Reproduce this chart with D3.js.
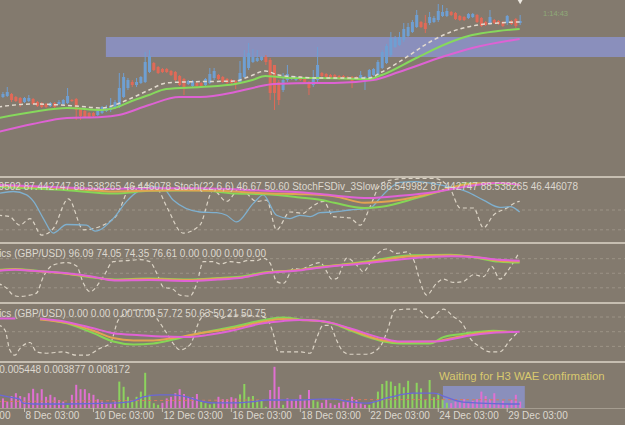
<!DOCTYPE html>
<html>
<head>
<meta charset="utf-8">
<script src="https://cdn.jsdelivr.net/npm/d3@7"></script>
<style>
  body { margin: 0; background: #837a6e; }
  svg { display: block; font-family: 'Liberation Sans', Arial, sans-serif; }
</style>
</head>
<body>
<svg id="chart"></svg>
<script>
// H3 candles, one per bar: [open, high, low, close] in price points
const candles = [
  [79,84,78,82],[80,89,79,84],[82,83,74,76],[79,80,74,75],[78,79,69,73],
  [74,79,73,78],[75,81,74,78],[77,78,71,72],[74,75,69,70],[73,74,68,69],
  [72,73,68,69],[70,74,69,73],[73,74,68,69],[72,76,71,74],[72,77,71,76],
  [73,88,72,80],[76,77,74,75],[77,78,56,66],[67,68,56,60],[65,66,58,59],
  [63,64,58,59],[63,64,59,60],[61,66,60,65],[63,70,62,69],[65,71,64,68],
  [66,78,64,70],[68,76,67,74],[69,103,68,88],[79,103,78,99],[88,98,86,96],
  [94,96,89,91],[91,98,89,94],[93,100,92,99],[94,124,93,114],[104,126,103,120],
  [113,114,105,106],[109,110,102,103],[107,108,103,104],[107,108,103,104],[105,106,100,101],
  [104,105,95,96],[100,101,90,91],[97,98,81,89],[92,96,91,95],[90,96,89,95],
  [93,94,89,90],[93,94,88,89],[91,98,90,97],[93,108,92,102],[98,108,96,105],
  [101,102,96,97],[99,100,93,94],[97,98,92,93],[96,97,92,93],[95,96,87,92],
  [94,115,93,103],[99,126,98,119],[108,133,106,123],[114,127,113,119],[115,126,114,118],
  [116,120,115,119],[119,121,111,114],[116,118,76,83],[111,111,66,83],[94,96,71,76],
  [86,103,84,96],[96,111,94,102],[97,100,96,99],[96,100,95,99],[99,100,95,96],
  [98,99,93,94],[94,95,81,88],[91,106,89,98],[96,129,94,111],[103,104,99,100],
  [102,103,98,99],[101,102,97,98],[101,102,97,98],[100,101,96,97],[100,101,97,98],
  [99,100,96,97],[99,100,88,95],[99,100,96,97],[97,105,96,101],[96,100,86,99],
  [99,107,98,106],[101,108,100,107],[101,116,100,114],[108,126,107,124],[113,132,112,130],
  [121,144,119,138],[129,140,128,138],[131,144,130,139],[136,153,134,147],[140,153,139,149],
  [144,156,143,154],[149,166,148,161],[154,155,148,149],[153,161,143,147],[153,164,151,159],
  [154,160,153,158],[156,172,154,165],[160,171,159,164],[160,168,159,165],[164,165,160,161],
  [163,164,156,157],[160,161,155,156],[159,160,155,156],[158,163,157,162],[159,163,158,162],
  [161,162,153,154],[158,159,149,150],[154,155,150,151],[153,166,151,159],[156,157,152,153],
  [155,156,151,152],[154,155,149,150],[153,161,151,160],[155,156,151,152],[157,158,148,150],
  [153,161,151,155]
];

// moving averages: [bar, price]
const maWhite = [[-1,69],[7,72],[17,70],[23,68],[26,71],[30,78],[34,86],[38,93],[42,94],[54,95],[57,99],[61,105],[64,101],[69,99],[73,98],[85,98],[88,104],[92,114],[100,136],[104,144],[109,150],[115,153],[120,154]];
const maGreen = [[-1,58],[7,64],[15,68],[23,66],[26,68],[30,75],[34,81],[38,87],[46,89],[54,92],[58,96],[61,100],[64,99],[69,98],[73,98],[85,97],[88,101],[96,118],[104,134],[109,141],[115,145],[120,147]];
const maMagenta = [[-1,44],[7,52],[15,58],[23,59],[27,61],[34,71],[41,79],[46,79],[54,84],[59,89],[63,92],[73,93],[77,93],[86,96],[92,104],[102,119],[109,128],[120,137]];

// supply zone and current-bar marker
const zoneMain = {fromBar: 24, hi: 139, lo: 119};
const arrowMark = {bar: 120, level: 175.5};
const timerText = '1:14:43';

// StochFSDiv window
const s1Pink = [[-1,88],[12,85],[23,82],[35,83],[46,83],[61,79],[69,77],[77,72],[85,68],[93,72],[100,77],[108,86],[115,91],[120,88]];
const s1Orange = [[-1,87],[15,83],[26,78],[40,80],[50,79],[62,75],[69,74],[77,71],[84,61],[92,65],[100,76],[108,89],[115,91],[120,88]];
const s1Green = [[-1,85],[15,80],[26,75],[34,79],[46,80],[54,75],[61,74],[69,69],[74,65],[77,61],[84,53],[88,55],[96,68],[104,83],[108,90],[112,90],[117,89],[120,88]];
const s1Blue = [[-1,75],[2.5,78],[5.6,73],[7.2,63],[9.5,37],[11.8,15],[14.9,28],[19.5,27],[21.5,18],[25.7,37],[28.8,63],[31.9,80],[35,85],[37.3,83],[39.6,65],[45.8,47],[49.7,46],[52,42],[54.3,32],[58.2,60],[60.5,73],[63.6,42],[66.7,37],[69,42],[71.4,40],[73.7,46],[76.8,47],[80.6,50],[85.3,53],[87.6,68],[89.9,83],[92.2,92],[96.1,93],[100,90],[103.8,85],[107.7,78],[111.6,65],[115.4,54],[117.8,55],[120,47]];
const s1Dash = [[-1,42],[1.7,40],[4,27],[6.4,37],[9.1,12],[11.8,22],[15.3,67],[18.8,20],[21.1,22],[24.2,30],[26.5,42],[29.6,83],[32.7,88],[35.8,83],[38.1,55],[41.9,15],[45.8,27],[48.9,80],[52,63],[55.1,83],[59,63],[61.3,65],[63.6,20],[66.7,47],[69.8,45],[71.4,53],[74.5,63],[76.8,40],[80.6,38],[83,27],[85.3,55],[87.6,88],[89.9,95],[94.6,98],[100,98],[103.8,83],[106.2,53],[109.3,53],[111.6,23],[113.9,42],[117,53],[119.3,62],[120,63]];
const s1Levels = [50, 20];
const s1Legend = 'StochFSDiv_3Slow 86.549502 87.442747 88.538265 46.446078 Stoch(22,6,6) 46.67 50.60 StochFSDiv_3Slow 86.549982 87.442747 88.538265 46.446078';

// Stochastics window 2
const s2Pink = [[-1,55],[3,57],[7,55],[15,50],[21,43],[26,35],[34,36],[43,34],[50,37],[55,40],[61,50],[68,55],[74,62],[77,65],[85,71],[95,81],[104,85],[110,83],[115,78],[120,76]];
const s2Green = [[-1,57],[3,59],[7,56],[15,49],[21,41],[26,37],[34,39],[43,37],[50,40],[55,43],[61,52],[68,56],[74,64],[77,66],[85,75],[95,87],[104,88],[110,82],[115,74],[120,72]];
const s2Orange = [[-1,56],[3,58],[7,55],[15,49],[21,42],[26,36],[34,38],[43,36],[50,39],[55,41],[61,51],[68,56],[74,63],[77,66],[85,73],[95,85],[104,87],[110,83],[115,76],[120,74]];
const s2Dash = [[-1,29],[1,19],[2.5,5],[4,2],[6.4,5],[7.9,9],[9.5,43],[11.8,67],[14.9,72],[17.2,65],[18.8,29],[20.3,12],[23.4,43],[25.7,74],[28.8,76],[31.9,78],[34.2,74],[35.8,50],[37.3,22],[39.6,17],[41.2,5],[43.5,3],[45.1,29],[46.6,74],[48.9,74],[50.5,69],[52.8,74],[55.1,72],[56.7,76],[59,76],[60.5,81],[62.1,71],[63.6,33],[65.2,29],[67.5,60],[69,58],[71.4,66],[73.7,72],[75.2,54],[76.4,38],[77.5,39],[79.9,81],[82.6,63],[83.7,53],[86,81],[89.1,100],[91.5,91],[93.8,94],[95.7,71],[96.9,33],[98.4,5],[100.7,29],[102.3,38],[104.6,31],[106.9,33],[109.3,47],[111.6,43],[113.5,64],[115.4,38],[117.4,57],[119.7,90]];
const s2Levels = [80, 50, 20];
const s2Legend = 'Stochastics (GBP/USD) 96.09 74.05 74.35 76.61 0.00 0.00 0.00 0.00';

// Stochastics window 3 (null = no value)
const s3Pink = [[-1,77],[3,77],[5,null],[8.7,77],[14.9,70],[21.1,57],[25.7,47],[31.9,43],[38.1,40],[42.7,39],[47.4,43],[53.6,53],[59.7,66],[65.2,72],[69,74],[73.7,72],[76.8,67],[80.6,57],[88.4,36],[92.2,30],[100,30],[103.8,34],[107.7,41],[113.9,48],[120,50]];
const s3Green = [[8.7,77],[14.9,67],[21.1,47],[25.7,30],[30.4,24],[35,26],[39.6,34],[45.8,47],[53.6,60],[61.3,75],[65.2,79],[69,75],[73.7,72],[76.8,66],[80.6,53],[84.5,40],[88.4,30],[92.2,26],[99.2,26],[102.3,39],[106.2,45],[110.8,50],[113.9,52],[117,50]];
const s3Orange = [[8.7,75],[14.9,68],[21.1,52],[25.7,37],[30.4,32],[35,32],[39.6,37],[45.8,47],[53.6,57],[61.3,72],[65.2,76],[69,74],[73.7,72],[76.8,67],[80.6,55],[88.4,32],[92.2,29],[100,30],[103.8,36],[107.7,43],[113.9,50],[118.5,50]];
const s3Dash = [[-1,64],[0.6,53],[1.7,13],[2.9,2],[4,15],[6.4,28],[7.9,9],[10.3,6],[14.1,9],[17.2,2],[19.5,2],[22.6,16],[25,26],[26.9,74],[30.4,94],[34.2,94],[35.8,77],[38.1,47],[39.6,26],[41.2,13],[43.5,23],[45.8,74],[48.2,91],[50.5,77],[52.8,84],[55.1,84],[59.7,81],[61.3,77],[62.8,47],[64,9],[66.7,9],[69,9],[71.4,6],[72.9,37],[74.4,63],[76,63],[77.5,33],[79.1,9],[80.6,4],[84.5,4],[87.6,19],[89.1,47],[91.1,94],[93.8,96],[96.1,96],[99.2,77],[102.3,96],[104.6,81],[106.9,64],[108.5,37],[110.8,19],[113.1,9],[115.4,9],[117.8,33],[119.7,50]];
const s3Levels = [80, 50, 20];
const s3Legend = 'Stochastics (GBP/USD) 0.00 0.00 0.00 0.00 57.72 50.63 50.21 50.75';

// Waddah Attar Explosion: + trend up (green), - trend down (pink)
const waeBars = [
  -0.0024,-0.0016,-0.0030,-0.0037,-0.0030,-0.0027,-0.0037,-0.0048,-0.0037,-0.0047,
  -0.0028,-0.0033,-0.0027,-0.0020,-0.0016,0.0008,-0.0033,-0.0058,-0.0047,-0.0047,
  -0.0037,-0.0033,-0.0022,-0.0016,-0.0013,-0.0012,-0.0016,0.0066,0.0053,0.0028,
  0.0020,0.0028,0.0041,0.0088,0.0033,0.0012,0.0008,-0.0013,-0.0024,-0.0028,
  -0.0037,-0.0047,-0.0035,-0.0028,-0.0027,-0.0035,0.0016,0.0012,0.0009,0.0012,
  -0.0028,-0.0022,-0.0022,-0.0027,-0.0024,0.0034,0.0060,0.0028,0.0030,0.0020,
  0.0018,0.0003,-0.0045,-0.0103,-0.0053,0.0008,-0.0024,-0.0020,-0.0022,-0.0033,
  -0.0020,-0.0045,0.0020,0.0016,-0.0013,-0.0022,-0.0012,-0.0008,-0.0013,-0.0016,
  -0.0016,-0.0028,-0.0020,-0.0012,-0.0008,0.0008,0.0016,0.0041,0.0060,0.0068,
  0.0066,0.0055,0.0062,0.0052,0.0068,0.0037,0.0063,0.0049,0.0020,0.0070,
  0.0027,0.0037,0.0022,0.0013,-0.0012,-0.0016,-0.0016,-0.0022,-0.0012,-0.0018,
  -0.0022,-0.0041,-0.0030,-0.0022,-0.0037,-0.0013,-0.0018,-0.0010,-0.0020,-0.0033,
  -0.0016
];
const waeExplosion = [[-1,0.0033],[1.7,0.0027],[4,0.0022],[4.8,0.0012],[7.2,0.0010],[14.9,0.0010],[25.7,0.0012],[30.4,0.0018],[32.7,0.0028],[36.5,0.0033],[39.6,0.0033],[42.7,0.0028],[45.8,0.0018],[48.9,0.0013],[53.6,0.0013],[58.2,0.0016],[61.3,0.0020],[69,0.0020],[73.7,0.0022],[76.8,0.0022],[80.6,0.0016],[84.5,0.0012],[89.9,0.0027],[95.3,0.0037],[100,0.0037],[103,0.0027],[106.2,0.0016],[110.8,0.0012],[117,0.0010],[120,0.0010]];
const waeDeadZone = [[-1,0.0016],[20,0.0018],[40,0.0019],[60,0.0020],[80,0.0021],[100,0.0021],[120,0.0020]];
const waeZone = {fromBar: 102.2, toBar: 121.2, top: 0.0055};
const waeLegend = 'Waddah_Attar_Explosion 0.000000 0.005448 0.003877 0.008172';
const waeMessage = 'Waiting for H3 WAE confirmation';

// time axis labels
const dateLabels = [
  {bar: -11, text: '4 Dec 03:00'}, {bar: 5, text: '8 Dec 03:00'}, {bar: 21, text: '10 Dec 03:00'},
  {bar: 37, text: '12 Dec 03:00'}, {bar: 53, text: '16 Dec 03:00'}, {bar: 69, text: '18 Dec 03:00'},
  {bar: 85, text: '22 Dec 03:00'}, {bar: 101, text: '24 Dec 03:00'}, {bar: 117, text: '29 Dec 03:00'}
];

// colours
const bg = '#837a6e';
const sepColor = '#c6beb1';
const levelColor = '#9c9386';
const textColor = '#ddd8cf';
const upColor = '#6f9fd2';
const downColor = '#e06a58';
const zoneColor = '#8a8fbc';

const width = 625;
const height = 425;
const svg = d3.select('#chart').attr('width', width).attr('height', height);
svg.append('rect').attr('width', width).attr('height', height).attr('fill', bg);

// shared bar axis
const x = d3.scaleLinear().domain([0, 120]).range([2.45, 519.65]);

// panel scales
const priceY = d3.scaleLinear().domain([0, 176]).range([176, 0]);
const st1Y = d3.scaleLinear().domain([0, 100]).range([243, 177]);
const st2Y = d3.scaleLinear().domain([0, 100]).range([297.5, 249]);
const st3Y = d3.scaleLinear().domain([0, 100]).range([356.2, 307.2]);
const waeY = d3.scaleLinear().domain([0, 0.012]).range([408, 360]);

const panels = [
  {id: 'p0', top: 0, bottom: 176},
  {id: 'p1', top: 178, bottom: 242},
  {id: 'p2', top: 244, bottom: 302},
  {id: 'p3', top: 304, bottom: 361},
  {id: 'p4', top: 363, bottom: 408}
];

const defs = svg.append('defs');
panels.forEach(p => {
  defs.append('clipPath').attr('id', 'clip-' + p.id)
    .append('rect').attr('x', 0).attr('y', p.top).attr('width', width).attr('height', p.bottom - p.top);
});
const layer = id => svg.append('g').attr('clip-path', 'url(#clip-' + id + ')');

function drawLine(g, data, yScale, color, w, dash) {
  g.append('path')
    .datum(data)
    .attr('fill', 'none')
    .attr('stroke', color)
    .attr('stroke-width', w)
    .attr('stroke-dasharray', dash || null)
    .attr('stroke-linejoin', 'round')
    .attr('d', d3.line()
      .defined(d => d[1] != null)
      .curve(d3.curveMonotoneX)
      .x(d => x(d[0]))
      .y(d => yScale(d[1])));
}

function drawLevels(g, levels, yScale) {
  g.selectAll(null).data(levels).enter().append('line')
    .attr('x1', 0).attr('x2', width)
    .attr('y1', d => yScale(d)).attr('y2', d => yScale(d))
    .attr('stroke', levelColor).attr('stroke-width', 1).attr('stroke-dasharray', '3,3');
}

function legend(text, anchorX, baseline, color, size) {
  svg.append('text')
    .attr('x', anchorX).attr('y', baseline)
    .attr('text-anchor', 'end')
    .attr('font-size', size || 10)
    .attr('fill', color || textColor)
    .text(text);
}

// ---- main price window
const g0 = layer('p0');
g0.append('rect')
  .attr('x', x(zoneMain.fromBar)).attr('y', priceY(zoneMain.hi))
  .attr('width', width - x(zoneMain.fromBar))
  .attr('height', priceY(zoneMain.lo) - priceY(zoneMain.hi))
  .attr('fill', zoneColor);

const candle = g0.selectAll('.candle').data(candles).enter().append('g').attr('class', 'candle');
candle.append('line')
  .attr('x1', (d, i) => x(i) + 0.5).attr('x2', (d, i) => x(i) + 0.5)
  .attr('y1', d => priceY(d[1])).attr('y2', d => priceY(d[2]))
  .attr('stroke', d => d[3] >= d[0] ? upColor : downColor).attr('stroke-width', 1);
candle.append('rect')
  .attr('x', (d, i) => x(i) - 1)
  .attr('y', d => priceY(Math.max(d[0], d[3])))
  .attr('width', 3)
  .attr('height', d => Math.max(1, Math.abs(priceY(d[0]) - priceY(d[3]))))
  .attr('fill', d => d[3] >= d[0] ? upColor : downColor);

drawLine(g0, maMagenta, priceY, '#de62d4', 2);
drawLine(g0, maGreen, priceY, '#86d95c', 2);
drawLine(g0, maWhite, priceY, '#e2dace', 1.5, '4,3');

g0.append('path')
  .attr('d', d3.symbol().type(d3.symbolTriangle).size(18))
  .attr('transform', 'translate(' + (x(arrowMark.bar) + 0.5) + ',' + priceY(arrowMark.level) + ') rotate(180)')
  .attr('fill', '#ece8e0');

svg.append('text')
  .attr('x', 543).attr('y', 15.5)
  .attr('font-size', 7.5)
  .attr('fill', '#8faa78')
  .text(timerText);

// ---- stochastic window 1
const g1 = layer('p1');
drawLevels(g1, s1Levels, st1Y);
legend(s1Legend, 578, 189.5);
drawLine(g1, s1Dash, st1Y, '#dcd4c6', 1.2, '4,3');
drawLine(g1, s1Blue, st1Y, '#7fb0cf', 1.3);
drawLine(g1, s1Green, st1Y, '#85d656', 2);
drawLine(g1, s1Orange, st1Y, '#e2a352', 2);
drawLine(g1, s1Pink, st1Y, '#e062d6', 2);

// ---- stochastic window 2
const g2 = layer('p2');
drawLevels(g2, s2Levels, st2Y);
legend(s2Legend, 266, 256.5);
drawLine(g2, s2Dash, st2Y, '#dcd4c6', 1.2, '4,3');
drawLine(g2, s2Green, st2Y, '#85d656', 2);
drawLine(g2, s2Orange, st2Y, '#e2a352', 2);
drawLine(g2, s2Pink, st2Y, '#e062d6', 2);

// ---- stochastic window 3
const g3 = layer('p3');
drawLevels(g3, s3Levels, st3Y);
legend(s3Legend, 266, 316.5);
drawLine(g3, s3Dash, st3Y, '#dcd4c6', 1.2, '4,3');
drawLine(g3, s3Green, st3Y, '#85d656', 2);
drawLine(g3, s3Orange, st3Y, '#e2a352', 2);
drawLine(g3, s3Pink, st3Y, '#e062d6', 2);

// ---- WAE window
const g4 = layer('p4');
g4.append('rect')
  .attr('x', x(waeZone.fromBar)).attr('y', waeY(waeZone.top))
  .attr('width', x(waeZone.toBar) - x(waeZone.fromBar))
  .attr('height', waeY(0) - waeY(waeZone.top))
  .attr('fill', zoneColor);
g4.selectAll('.wae').data(waeBars).enter().append('rect')
  .attr('x', (d, i) => x(i) - 0.5)
  .attr('y', d => waeY(Math.abs(d)))
  .attr('width', 2)
  .attr('height', d => waeY(0) - waeY(Math.abs(d)))
  .attr('fill', d => d > 0 ? '#8cd35e' : '#e070d2');
drawLine(g4, waeDeadZone, waeY, '#d47a5e', 1, '3,3');
drawLine(g4, waeExplosion, waeY, '#6a68d8', 1.3);
legend(waeLegend, 130, 372.5);
svg.append('text')
  .attr('x', 439).attr('y', 379.5)
  .attr('font-size', 11.4)
  .attr('fill', '#d9c96e')
  .text(waeMessage);

// ---- separators
[176, 242, 302, 361].forEach(y0 => {
  svg.append('rect').attr('x', 0).attr('y', y0).attr('width', width).attr('height', 2).attr('fill', sepColor);
});

// ---- time axis
svg.append('line')
  .attr('x1', 0).attr('x2', width).attr('y1', 408.5).attr('y2', 408.5)
  .attr('stroke', '#a59d90').attr('stroke-width', 1);
const tick = svg.selectAll('.tick').data(dateLabels).enter().append('g').attr('class', 'tick');
tick.append('line')
  .attr('x1', d => x(d.bar) + 0.5).attr('x2', d => x(d.bar) + 0.5)
  .attr('y1', 408).attr('y2', 412)
  .attr('stroke', '#c8c0b4');
tick.append('text')
  .attr('x', d => x(d.bar) + 1.5).attr('y', 418.5)
  .attr('font-size', 10)
  .attr('fill', textColor)
  .text(d => d.text);
</script>
</body>
</html>
